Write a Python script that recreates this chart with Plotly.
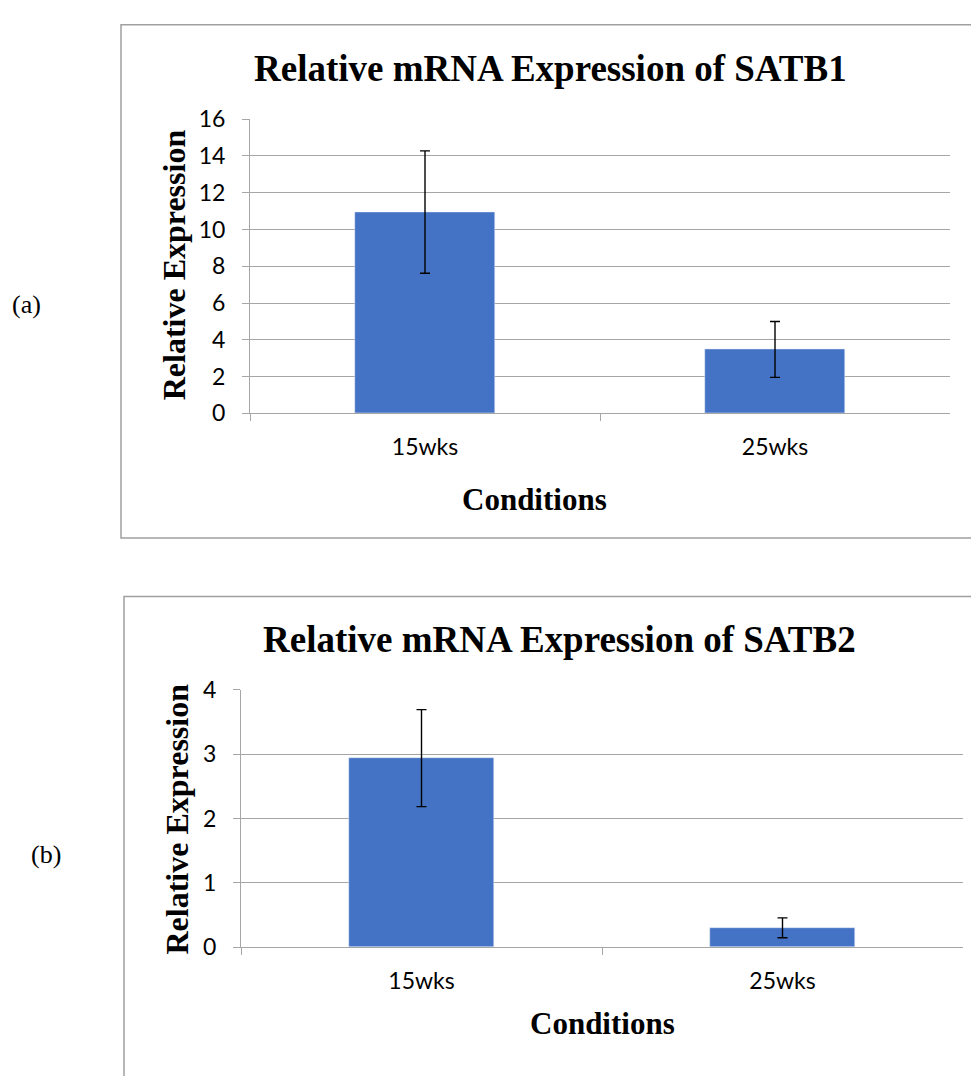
import plotly.graph_objects as go

categories = ["15wks", "25wks"]
satb1_values = [10.95, 3.48]
satb1_errors = [3.33, 1.52]
satb2_values = [2.94, 0.30]
satb2_errors = [0.755, 0.155]

W, H = 971, 1076
def fx(x):
    return x / W
def fy(y):
    return 1 - y / H

BAR = "#4472C4"
GRID = "#a6a6a6"
SERIF = "Liberation Serif"
SANS = "Lato"

fig = go.Figure()
fig.add_trace(go.Bar(x=categories, y=satb1_values, width=0.4, marker=dict(color=BAR),
                     error_y=dict(type="data", array=satb1_errors, color="black", thickness=1.4, width=5),
                     xaxis="x", yaxis="y", showlegend=False))
fig.add_trace(go.Bar(x=categories, y=satb2_values, width=0.4, marker=dict(color=BAR),
                     error_y=dict(type="data", array=satb2_errors, color="black", thickness=1.4, width=5),
                     xaxis="x2", yaxis="y2", showlegend=False))

xcommon = dict(type="category", range=[-0.5, 1.5], tickson="boundaries", ticks="outside", ticklen=7,
               tickcolor=GRID, showline=True, linecolor=GRID, linewidth=1, showgrid=False,
               tickfont=dict(family=SANS, size=23, color="black"), ticklabelstandoff=13, fixedrange=True)
ycommon = dict(ticks="outside", ticklen=7, tickcolor=GRID, showline=True, linecolor=GRID, linewidth=1,
               showgrid=True, gridcolor=GRID, gridwidth=1, zeroline=False,
               tickfont=dict(family=SANS, size=23, color="black"), ticklabelstandoff=12)

fig.update_layout(
    width=W, height=H, margin=dict(l=0, r=0, t=0, b=0),
    paper_bgcolor="white", plot_bgcolor="white",
    xaxis=dict(domain=[fx(250), fx(950)], anchor="y", **xcommon),
    yaxis=dict(domain=[fy(409), fy(107)], anchor="x", range=[0, 16], dtick=2, **ycommon),
    xaxis2=dict(domain=[fx(241), fx(963)], anchor="y2", **xcommon),
    yaxis2=dict(domain=[fy(957), fy(693)], anchor="x2", range=[0, 4], dtick=1, **ycommon),
    bargap=0,
)

# chart borders
fig.add_shape(type="rect", xref="paper", yref="paper", x0=fx(121), x1=fx(1010), y0=fy(537), y1=fy(10),
              line=dict(color="#a0a0a0", width=1.5), fillcolor="rgba(0,0,0,0)", layer="below")
fig.add_shape(type="rect", xref="paper", yref="paper", x0=fx(124), x1=fx(1010), y0=fy(1100), y1=fy(597),
              line=dict(color="#a0a0a0", width=1.5), fillcolor="rgba(0,0,0,0)", layer="below")

def ann(text, x, y, size, bold=True, angle=0, family=SERIF):
    fig.add_annotation(text=text, xref="paper", yref="paper", x=fx(x), y=fy(y), showarrow=False,
                       xanchor="center", yanchor="middle", textangle=angle,
                       font=dict(family=family, size=size, color="black", weight="bold" if bold else "normal"))

ann("Relative mRNA Expression of SATB1", 550, 55, 37)
ann("Relative Expression", 174, 257, 32, angle=-90)
ann("Conditions", 534, 497, 31)
ann("Relative mRNA Expression of SATB2", 559, 641, 37)
ann("Relative Expression", 177, 826, 32, angle=-90)
ann("Conditions", 602, 1035, 31)
ann("(a)", 26, 297, 26, bold=False)
ann("(b)", 46, 862, 26, bold=False)

fig.write_html("out.html", config={"displayModeBar": False},
               post_script="document.body.style.margin='0';document.body.style.overflow='hidden';")
